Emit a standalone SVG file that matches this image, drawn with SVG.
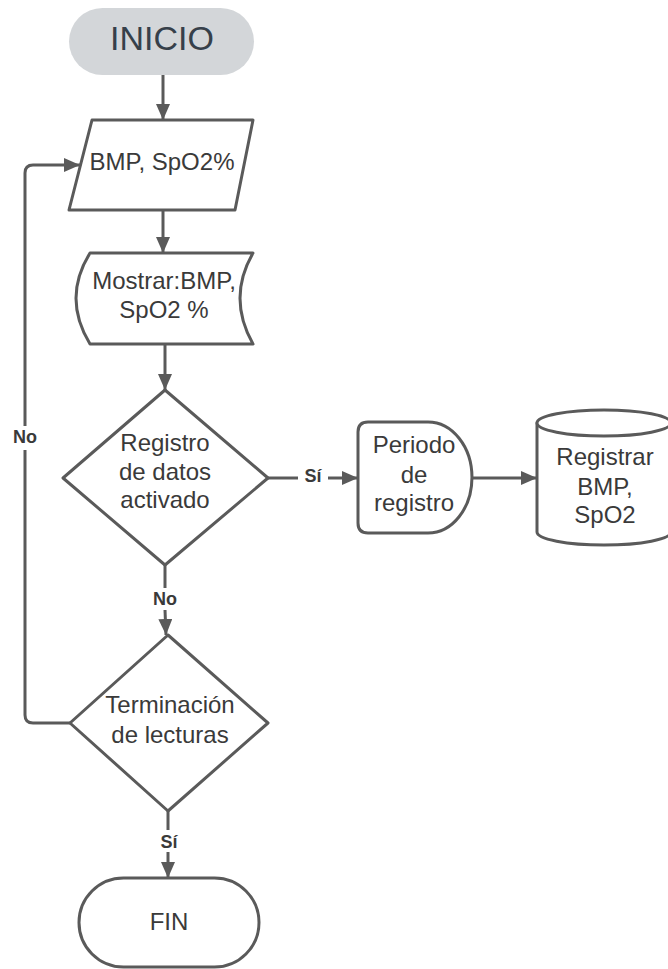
<svg xmlns="http://www.w3.org/2000/svg" width="668" height="969" viewBox="0 0 668 969">
<style>
.shape{fill:#fff;stroke:#5a5a5a;stroke-width:3;stroke-linejoin:round}
.t{font-family:"Liberation Sans",Arial,sans-serif;font-size:24px;fill:#3a3a3a;text-anchor:middle}
.lbl{font-family:"Liberation Sans",Arial,sans-serif;font-size:18px;font-weight:bold;fill:#3a3a3a;text-anchor:middle}
.c{fill:none;stroke:#5a5a5a;stroke-width:3}
</style>
<defs>
<marker id="ah" markerUnits="userSpaceOnUse" markerWidth="17" markerHeight="14" refX="16" refY="7" orient="auto">
<path d="M0,0 L16,7 L0,14 z" fill="#5a5a5a"/>
</marker>
</defs>
<rect width="668" height="969" fill="#fff"/>
<g id="connectors">
<path class="c" d="M163,75 L163,120" marker-end="url(#ah)"/>
<path class="c" d="M163,210 L163,253" marker-end="url(#ah)"/>
<path class="c" d="M165,344 L165,390" marker-end="url(#ah)"/>
<path class="c" d="M165,565 L165,588"/>
<path class="c" d="M165,610 L166,635" marker-end="url(#ah)"/>
<path class="c" d="M268,478 L298,478"/>
<path class="c" d="M328,478 L358,478" marker-end="url(#ah)"/>
<path class="c" d="M472,478 L537,478" marker-end="url(#ah)"/>
<path class="c" d="M168,811 L168,830"/>
<path class="c" d="M168,852 L168,878" marker-end="url(#ah)"/>
<path class="c" d="M70,723 L33,723 Q25,723 25,715 L25,450"/>
<path class="c" d="M25,426 L25,173 Q25,165 33,165 L80,165" marker-end="url(#ah)"/>
<text class="lbl" x="25" y="443">No</text>
<text class="lbl" x="165" y="605">No</text>
<text class="lbl" x="313" y="482">Sí</text>
<text class="lbl" x="169" y="848">Sí</text>
</g>
<g id="inicio">
<rect x="69" y="8" width="185" height="67" rx="33.5" fill="#d3d6d9"/>
<text class="t" x="162" y="50" style="font-size:34px;fill:#36404a">INICIO</text>
</g>
<g id="entrada">
<path class="shape" d="M92,120 L253,120 L235,210 L69,210 Z"/>
<text class="t" x="162" y="170">BMP, SpO2%</text>
</g>
<g id="mostrar">
<path class="shape" d="M90,253 L253,253 Q227,298 253,344 L90,344 Q62,298 90,253 Z"/>
<text class="t" x="164" y="289">Mostrar:BMP,</text>
<text class="t" x="164" y="318">SpO2 %</text>
</g>
<g id="registro">
<path class="shape" d="M165,390 L268,478 L165,565 L63,478 Z"/>
<text class="t" x="165" y="451">Registro</text>
<text class="t" x="165" y="480">de datos</text>
<text class="t" x="165" y="508">activado</text>
</g>
<g id="periodo">
<path class="shape" d="M368,422 L428,422 A44,55.5 0 0 1 428,533 L368,533 Q358,533 358,523 L358,432 Q358,422 368,422 Z"/>
<text class="t" x="414" y="453">Periodo</text>
<text class="t" x="414" y="483">de</text>
<text class="t" x="414" y="511">registro</text>
</g>
<g id="registrar">
<path class="shape" d="M537,423 L537,532 A67,13 0 0 0 671,532 L671,423 Z"/>
<ellipse class="shape" cx="604" cy="423" rx="67" ry="13"/>
<text class="t" x="605" y="465">Registrar</text>
<text class="t" x="605" y="495">BMP,</text>
<text class="t" x="605" y="523">SpO2</text>
</g>
<g id="terminacion">
<path class="shape" d="M168,635 L268,723 L168,811 L70,723 Z"/>
<text class="t" x="170" y="713">Terminación</text>
<text class="t" x="170" y="743">de lecturas</text>
</g>
<g id="fin">
<rect class="shape" x="79" y="878" width="180" height="89" rx="44.5"/>
<text class="t" x="169" y="930">FIN</text>
</g>
</svg>
